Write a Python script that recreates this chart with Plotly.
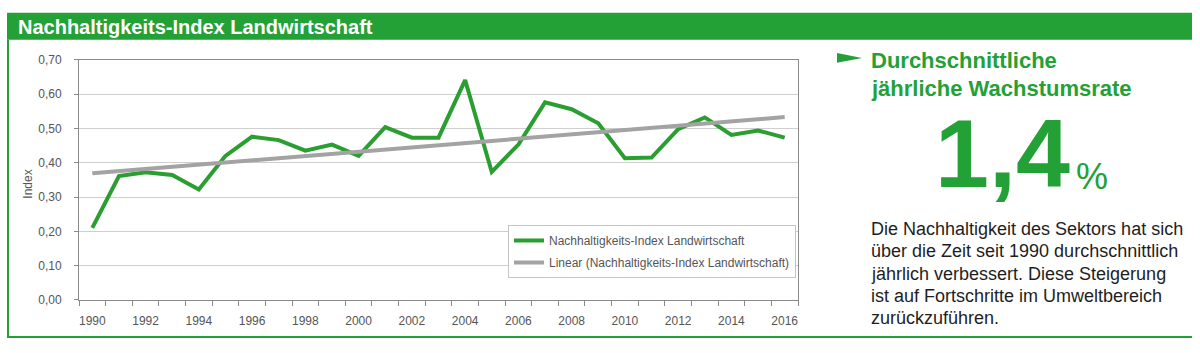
import plotly.graph_objects as go

W, H = 1200, 353

years = list(range(1990, 2017))
index_values = [0.210, 0.361, 0.372, 0.364, 0.322, 0.420, 0.476, 0.466, 0.435, 0.453,
                0.420, 0.504, 0.473, 0.473, 0.641, 0.373, 0.453, 0.576, 0.556, 0.515,
                0.413, 0.415, 0.498, 0.532, 0.481, 0.494, 0.473]
trend_years = [1990, 2016]
trend_values = [0.369, 0.533]
x_tick_years = list(range(1990, 2017, 2))
y_tick_values = [0.0, 0.1, 0.2, 0.3, 0.4, 0.5, 0.6, 0.7]

series_name = "Nachhaltigkeits-Index Landwirtschaft"
trend_name = "Linear (Nachhaltigkeits-Index Landwirtschaft)"
title_text = "Nachhaltigkeits-Index Landwirtschaft"
side_title = ["Durchschnittliche", "jährliche Wachstumsrate"]
big_number = "1,4"
big_unit = "%"
body_lines = ["Die Nachhaltigkeit des Sektors hat sich",
              "über die Zeit seit 1990 durchschnittlich",
              "jährlich verbessert. Diese Steigerung",
              "ist auf Fortschritte im Umweltbereich",
              "zurückzuführen."]

GREEN = "#23a136"
LINE_GREEN = "#2a9e30"
GRAY_TREND = "#a3a3a3"
FONT = "Liberation Sans, Arial, Helvetica, sans-serif"


def px(x):
    return x / W


def py(y):
    return 1 - y / H


fig = go.Figure()
fig.add_trace(go.Scatter(x=years, y=index_values, mode="lines", name=series_name,
                         line=dict(color=LINE_GREEN, width=4), legendgroup="a"))
fig.add_trace(go.Scatter(x=trend_years, y=trend_values, mode="lines", name=trend_name,
                         line=dict(color=GRAY_TREND, width=4), legendgroup="b"))

shapes = [
    dict(type="rect", xref="paper", yref="paper", x0=px(7), x1=px(1192), y0=py(34), y1=py(6),
         fillcolor=GREEN, line=dict(width=0), layer="below"),
    dict(type="line", xref="paper", yref="paper", x0=px(8), x1=px(8), y0=py(34), y1=py(344),
         line=dict(color=GREEN, width=2)),
    dict(type="line", xref="paper", yref="paper", x0=px(7), x1=px(1192), y0=py(343.5), y1=py(343.5),
         line=dict(color=GREEN, width=2)),
    dict(type="path", xref="paper", yref="paper",
         path=f"M {px(837)},{py(48)} L {px(862)},{py(53)} L {px(837)},{py(58)} Z",
         fillcolor=GREEN, line=dict(width=0)),
]

annotations = [
    dict(text=f"<b>{title_text}</b>", x=px(16), y=py(21), xanchor="left", yanchor="middle",
         font=dict(family=FONT, size=20, color="white"), showarrow=False),
    dict(text="Index", x=px(28), y=py(185), textangle=-90, xanchor="center", yanchor="middle",
         font=dict(family=FONT, size=12, color="#555555"), showarrow=False),
    dict(text=f"<b>{side_title[0]}</b>", x=px(870), y=py(56), xanchor="left", yanchor="middle",
         font=dict(family=FONT, size=22, color=GREEN), showarrow=False, borderpad=0),
    dict(text=f"<b>{side_title[1]}</b>", x=px(870), y=py(85), xanchor="left", yanchor="middle",
         font=dict(family=FONT, size=22, color=GREEN), showarrow=False, borderpad=0),
    dict(text=f"<b>{big_number}</b>", x=px(1071), y=py(153), xanchor="right", yanchor="middle",
         font=dict(family=FONT, size=97, color=GREEN), showarrow=False, borderpad=0),
    dict(text=big_unit, x=px(1075), y=py(176), xanchor="left", yanchor="middle",
         font=dict(family=FONT, size=36, color=GREEN), showarrow=False, borderpad=0),
]
for i, line in enumerate(body_lines):
    annotations.append(dict(text=line, x=px(870), y=py(231 + i * 23.3), xanchor="left",
                            yanchor="middle", font=dict(family=FONT, size=18, color="#1e1e1e"),
                            showarrow=False, borderpad=0))
for a in annotations:
    a.setdefault("xref", "paper")
    a.setdefault("yref", "paper")

fig.update_layout(
    width=W, height=H,
    margin=dict(l=0, r=0, t=0, b=0),
    paper_bgcolor="white", plot_bgcolor="white",
    separators=",.",
    font=dict(family=FONT, size=12, color="#555555"),
    showlegend=True,
    legend=dict(x=px(508), y=py(227), xanchor="left", yanchor="top",
                bgcolor="white", bordercolor="#c4c4c4", borderwidth=1,
                font=dict(family=FONT, size=12, color="#555555"),
                tracegroupgap=3, itemwidth=30),
    shapes=shapes,
    annotations=annotations,
    xaxis=dict(domain=[px(79), px(798)], range=[1989.5, 2016.5], tickmode="array",
               tickvals=x_tick_years, ticktext=[str(y) for y in x_tick_years],
               ticks="", showgrid=False, zeroline=False,
               showline=True, linecolor="#8a8a8a", linewidth=1, mirror=True,
               tickfont=dict(family=FONT, size=12, color="#555555"),
               ticklabelstandoff=10,
               minor=dict(tickmode="linear", tick0=1989.5, dtick=1, ticks="outside",
                          ticklen=5, tickcolor="#8a8a8a", tickwidth=1, showgrid=False)),
    yaxis=dict(domain=[py(305), py(55)], range=[0, 0.7], tickmode="array",
               tickvals=y_tick_values, tickformat=".2f",
               ticks="outside", ticklen=4, tickcolor="#8a8a8a",
               showgrid=True, gridcolor="#cfcfcf", gridwidth=1, zeroline=False,
               showline=True, linecolor="#8a8a8a", linewidth=1, mirror=True,
               tickfont=dict(family=FONT, size=12, color="#555555"),
               ticklabelstandoff=10),
)

fig.write_html("out.html")
